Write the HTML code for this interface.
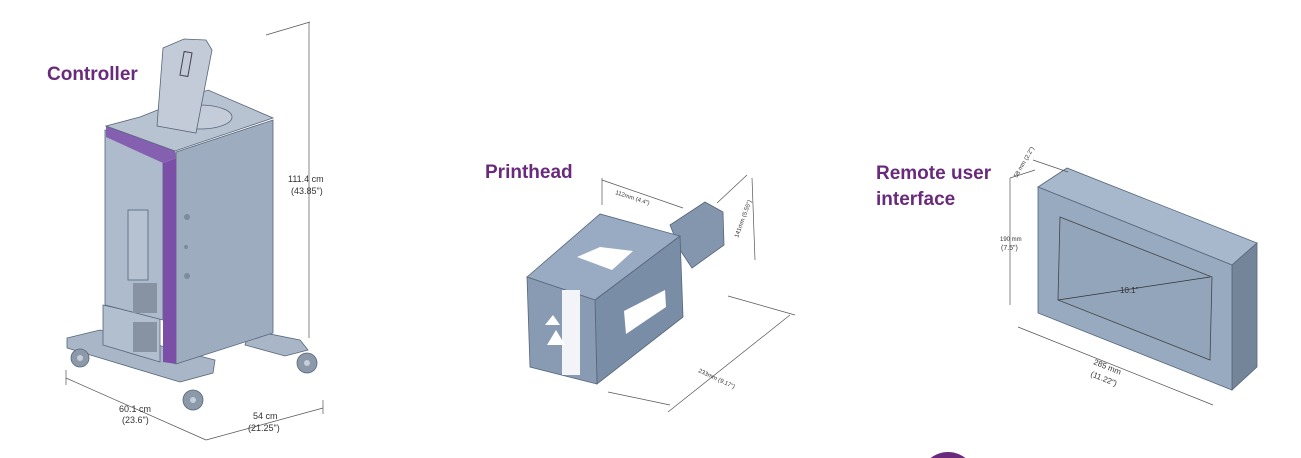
<!DOCTYPE html>
<html><head><meta charset="utf-8"><style>
html,body{margin:0;padding:0;background:#fff;overflow:hidden;width:1301px;height:458px;}
svg{display:block;}
text{font-family:"Liberation Sans",sans-serif;}
.lbl{font-family:"Liberation Sans",sans-serif;font-size:19px;fill:#6a2a7c;font-weight:bold;}
.dim{font-size:9px;fill:#333;}
.sm{font-size:6px;fill:#333;}
.ln{stroke:#555;stroke-width:0.7;fill:none;}
.ed{stroke:#56657a;stroke-width:0.8;}
</style></head><body>
<svg width="1301" height="458" viewBox="0 0 1301 458" xmlns="http://www.w3.org/2000/svg">
<!-- CONTROLLER -->
<text x="47" y="80" class="lbl">Controller</text>
<polygon points="67,338 100,330 215,360 213,373 180,382 67,348" fill="#a8b6c8" class="ed"/>
<polygon points="250,330 300,340 308,350 285,356 245,345" fill="#a8b6c8" class="ed"/>
<g fill="#8c99a9" class="ed">
<circle cx="80" cy="358" r="9"/><circle cx="193" cy="400" r="10"/><circle cx="307" cy="363" r="10"/>
</g>
<g fill="#c5ced9"><circle cx="80" cy="358" r="3"/><circle cx="193" cy="400" r="3"/><circle cx="307" cy="363" r="3"/></g>
<polygon points="103,305 160,318 160,362 103,345" fill="#b2bfcf" class="ed"/>
<polygon points="105,130 163,150 163,320 105,305" fill="#aebbcc" class="ed"/>
<rect x="128" y="210" width="20" height="70" fill="#b6c2d1" class="ed"/>
<rect x="133" y="283" width="24" height="30" fill="#8793a2"/>
<rect x="133" y="322" width="24" height="30" fill="#8793a2"/>
<polygon points="176,152 273,120 273,333 176,364" fill="#9dacbf" class="ed"/>
<circle cx="187" cy="217" r="3" fill="#7d8b9c"/><circle cx="186" cy="247" r="2" fill="#7d8b9c"/><circle cx="187" cy="276" r="3" fill="#7d8b9c"/>
<polygon points="163,163 176,158 176,364 163,362" fill="#7b4fa8"/>
<polygon points="106,126 175,150 176,158 163,163 106,137" fill="#8560b0"/>
<polygon points="106,126 140,117 208,90 273,118 175,151" fill="#b8c3d1" class="ed"/>
<ellipse cx="200" cy="117" rx="32" ry="12" fill="#c3ccd8" class="ed"/>
<polygon points="163,48 184,39 206,40 212,50 196,133 157,126" fill="#c2cbd7" class="ed"/>
<rect x="182" y="52" width="8" height="24" fill="none" stroke="#445" stroke-width="1" transform="rotate(10 186 64)"/>
<line x1="309" y1="22" x2="309" y2="338" class="ln"/>
<line x1="266" y1="35" x2="310" y2="22" class="ln"/>
<text x="288" y="182" class="dim">111.4 cm</text>
<text x="291" y="194" class="dim">(43.85")</text>
<line x1="66" y1="378" x2="206" y2="440" class="ln"/>
<line x1="206" y1="440" x2="323" y2="408" class="ln"/>
<line x1="66" y1="370" x2="66" y2="385" class="ln"/><line x1="323" y1="400" x2="323" y2="414" class="ln"/>
<text x="119" y="412" class="dim">60.1 cm</text><text x="122" y="423" class="dim">(23.6")</text>
<text x="253" y="419" class="dim">54 cm</text><text x="248" y="431" class="dim">(21.25")</text>

<!-- PRINTHEAD -->
<text x="485" y="178" class="lbl">Printhead</text>
<polygon points="670,225 705,202 723,212 724,245 692,268 680,250" fill="#8396ad" class="ed"/>
<polygon points="527,277 600,214 680,236 595,300" fill="#98abc2" class="ed"/>
<polygon points="595,300 680,236 683,317 597,384" fill="#7a8da6" class="ed"/>
<polygon points="527,277 595,300 597,384 530,367" fill="#889bb3" class="ed"/>
<polygon points="577,257 600,247 633,251 612,270" fill="#fff"/>
<polygon points="624,311 665,290 666,307 626,334" fill="#fff"/>
<rect x="562" y="290" width="18" height="85" fill="#f2f4f7"/>
<polygon points="547,345 556,330 565,345" fill="#fff"/>
<polygon points="545,325 553,315 560,325" fill="#fff"/>
<line x1="602" y1="178" x2="602" y2="205" class="ln"/>
<line x1="602" y1="180" x2="683" y2="208" class="ln"/>
<text x="615" y="194" class="sm" transform="rotate(18 615 194)">112mm (4.4")</text>
<line x1="717" y1="203" x2="747" y2="175" class="ln"/>
<line x1="752" y1="178" x2="755" y2="260" class="ln"/>
<text x="738" y="238" class="sm" transform="rotate(-70 738 238)">141mm (5.55")</text>
<line x1="608" y1="392" x2="670" y2="405" class="ln"/>
<line x1="668" y1="412" x2="790" y2="315" class="ln"/>
<line x1="728" y1="296" x2="795" y2="315" class="ln"/>
<text x="698" y="372" class="sm" transform="rotate(25 698 372)">233mm (9.17")</text>

<!-- REMOTE UI -->
<text x="876" y="179" class="lbl">Remote user</text>
<text x="876" y="205" class="lbl">interface</text>
<polygon points="1038,187 1067,168 1257,243 1232,265" fill="#a7b8cc" class="ed"/>
<polygon points="1232,265 1257,243 1257,367 1232,390" fill="#74859a" class="ed"/>
<polygon points="1038,187 1232,265 1232,390 1038,313" fill="#98aac0" class="ed"/>
<polygon points="1060,217 1212,277 1210,360 1058,300" fill="#93a5bb" stroke="#444" stroke-width="0.8"/>
<line x1="1058" y1="300" x2="1210" y2="277" stroke="#333" stroke-width="0.7"/>
<text x="1120" y="293" class="dim" style="font-size:8px">10.1"</text>
<line x1="1010" y1="178" x2="1010" y2="305" class="ln"/>
<line x1="1010" y1="178" x2="1035" y2="170" class="ln"/>
<text x="1000" y="241" class="sm">190 mm</text><text x="1001" y="250" class="dim" style="font-size:7px">(7.5")</text>
<line x1="1033" y1="160" x2="1068" y2="172" class="ln"/>
<text x="1017" y="178" class="sm" transform="rotate(-60 1017 178)">58 mm (2.2")</text>
<line x1="1018" y1="327" x2="1213" y2="405" class="ln"/>
<text x="1093" y="364" class="dim" style="font-size:8px" transform="rotate(22 1093 364)">285 mm</text>
<text x="1090" y="376" class="dim" style="font-size:8px" transform="rotate(22 1090 376)">(11.22")</text>
<circle cx="948" cy="480" r="28" fill="#6a2a7c"/>
</svg>
</body></html>
